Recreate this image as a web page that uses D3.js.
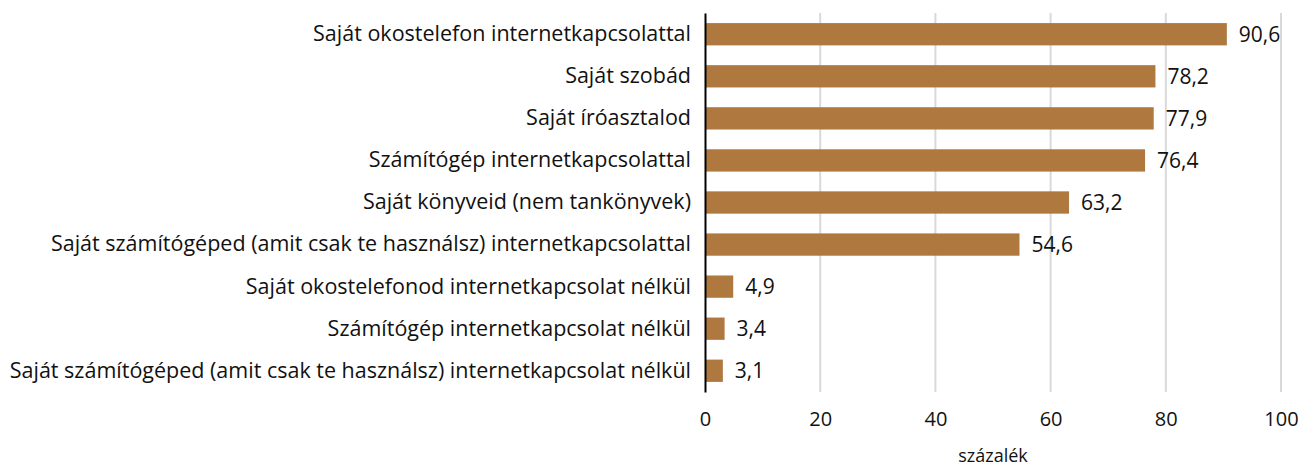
<!DOCTYPE html>
<html>
<head>
<meta charset="utf-8">
<script src="https://cdn.jsdelivr.net/npm/d3@7"></script>
<style>
  body { margin: 0; background: #fff; }
  svg text { font-family: "Open Sans", "Noto Sans", sans-serif; fill: #111; }
</style>
</head>
<body>
<svg id="chart" width="1302" height="466"></svg>
<script>
const categories = [
  "Saját okostelefon internetkapcsolattal",
  "Saját szobád",
  "Saját íróasztalod",
  "Számítógép internetkapcsolattal",
  "Saját könyveid (nem tankönyvek)",
  "Saját számítógéped (amit csak te használsz) internetkapcsolattal",
  "Saját okostelefonod internetkapcsolat nélkül",
  "Számítógép internetkapcsolat nélkül",
  "Saját számítógéped (amit csak te használsz) internetkapcsolat nélkül"
];
const values = [90.6, 78.2, 77.9, 76.4, 63.2, 54.6, 4.9, 3.4, 3.1];
const xTicks = [0, 20, 40, 60, 80, 100];
const xTitle = "százalék";

const svg = d3.select("#chart");
const margin = { left: 705, right: 21, top: 13, bottom: 74 };
const W = 1302, H = 466;

const x = d3.scaleLinear().domain([0, 100]).range([margin.left, W - margin.right]);
const y = d3.scaleBand().domain(categories).range([margin.top, H - margin.bottom]).paddingInner(0.47).paddingOuter(0.24);

// vertical gridlines
svg.append("g").selectAll("line").data(xTicks.filter(d => d > 0)).join("line")
  .attr("x1", d => x(d)).attr("x2", d => x(d))
  .attr("y1", margin.top).attr("y2", H - margin.bottom)
  .attr("stroke", "#d9d9d9").attr("stroke-width", 2);

// bars
svg.append("g").selectAll("rect").data(values).join("rect")
  .attr("x", x(0))
  .attr("y", (d, i) => y(categories[i]))
  .attr("width", d => x(d) - x(0))
  .attr("height", y.bandwidth())
  .attr("fill", "#ae783f");

// value labels
svg.append("g").selectAll("text").data(values).join("text")
  .attr("x", d => x(d) + 12)
  .attr("y", (d, i) => y(categories[i]) + y.bandwidth() / 2)
  .attr("dy", "0.36em")
  .attr("font-size", 21)
  .text(d => d3.format(".1f")(d).replace(".", ","));

// category axis
const yAxis = d3.axisLeft(y).tickSize(0).tickPadding(14);
const gy = svg.append("g").attr("transform", `translate(${x(0)},0)`).call(yAxis);
gy.select(".domain").attr("stroke", "#000").attr("stroke-width", 2);
gy.selectAll("text").attr("font-size", 21.5).style("font-family", '"Open Sans", sans-serif').attr("fill", "#111");

// value axis
const xAxis = d3.axisBottom(x).tickValues(xTicks).tickSize(0).tickPadding(20).tickFormat(d3.format("d"));
const gx = svg.append("g").attr("transform", `translate(0,${H - margin.bottom})`).call(xAxis);
gx.select(".domain").remove();
gx.selectAll("text").attr("font-size", 20).style("font-family", '"Open Sans", sans-serif').attr("fill", "#111");

svg.append("text")
  .attr("x", (x(0) + x(100)) / 2)
  .attr("y", 462)
  .attr("text-anchor", "middle")
  .attr("font-size", 18)
  .text(xTitle);
</script>
</body>
</html>
